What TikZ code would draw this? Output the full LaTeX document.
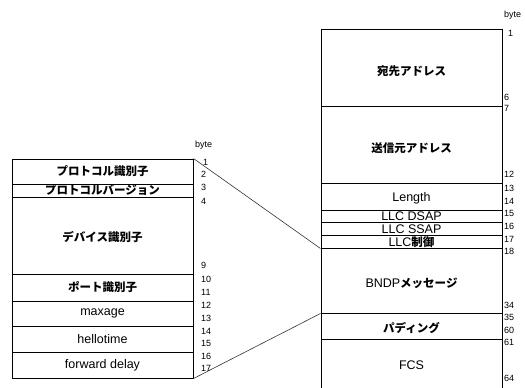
\documentclass[tikz,border=0pt]{standalone}
\usepackage{fontspec}
\setmainfont{Liberation Sans}
\newfontfamily\cjk{Noto Sans CJK JP}
\begin{document}
\begin{tikzpicture}[x=1pt,y=-1pt,
  row/.style={draw=black,line width=1pt,inner sep=0pt,minimum width=181pt},
  lat/.style={inner sep=0pt,font=\fontsize{12.5}{14}\selectfont},
  jp/.style={inner sep=0pt,font=\fontsize{11.5}{13}\selectfont\cjk\bfseries},
  num/.style={inner sep=0pt,anchor=west,font=\fontsize{9}{10}\selectfont},
  link/.style={draw=black!80,line width=0.6pt}]
\useasboundingbox (0,0) rectangle (525,388);
% left box
\node[row,minimum height=25pt] (pid) at (102.5,171.5) {};
\node[row,minimum height=13pt] (pver) at (102.5,190.5) {};
\node[row,minimum height=77pt] (dev) at (102.5,235.5) {};
\node[row,minimum height=27pt] (port) at (102.5,287.5) {};
\node[row,minimum height=25pt] (maxa) at (102.5,313.5) {};
\node[row,minimum height=26pt] (hello) at (102.5,339) {};
\node[row,minimum height=26pt] (fwd) at (102.5,365) {};
\node[jp] (tpid) at (102.5,171.5) {プロトコル識別子};
\node[jp] (tpver) at (102.5,190) {プロトコルバージョン};
\node[jp] (tdev) at (102.5,237.5) {デバイス識別子};
\node[jp] (tport) at (102.5,287.5) {ポート識別子};
\node[lat] (tmaxa) at (102.5,313) {maxage};
\node[lat] (thello) at (102.5,339) {hellotime};
\node[lat] (tfwd) at (102.5,365) {forward delay};
% right box
\node[row,minimum height=77pt] (dst) at (411.5,67.5) {};
\node[row,minimum height=77pt] (src) at (411.5,144.5) {};
\node[row,minimum height=27pt] (len) at (411.5,196.5) {};
\node[row,minimum height=12pt] (dsap) at (411.5,216) {};
\node[row,minimum height=13pt] (ssap) at (411.5,228.5) {};
\node[row,minimum height=13pt] (llc) at (411.5,241.5) {};
\node[row,minimum height=65pt] (bndp) at (411.5,280.5) {};
\node[row,minimum height=26pt] (pad) at (411.5,326) {};
\node[row,minimum height=61pt] (fcs) at (411.5,369.5) {};
\node[jp] (tdst) at (411.5,71) {宛先アドレス};
\node[jp] (tsrc) at (411.5,148) {送信元アドレス};
\node[lat] (tlen) at (411.5,198) {Length};
\node[lat] (tdsap) at (411.5,216) {LLC DSAP};
\node[lat] (tssap) at (411.5,229) {LLC SSAP};
\node[lat] (tllc) at (411.5,242) {LLC{\fontsize{11.5}{13}\selectfont\cjk\bfseries 制御}};
\node[lat] (tbndp) at (411.5,283) {BNDP{\fontsize{11.5}{13}\selectfont\cjk\bfseries メッセージ}};
\node[jp] (tpad) at (411.5,328) {パディング};
\node[lat] (tfcs) at (411.5,365) {FCS};
% connectors
\draw[link] (pid.north east) -- (llc.south west);
\draw[link] (fwd.south east) -- (bndp.south west);
% byte numbers left
\node[num] (lb) at (195,145) {byte};
\node[num] (l1) at (203,162) {1};
\node[num] (l2) at (201,174) {2};
\node[num] (l3) at (201,187) {3};
\node[num] (l4) at (201,201) {4};
\node[num] (l9) at (201,265) {9};
\node[num] (l10) at (201,279) {10};
\node[num] (l11) at (201,292) {11};
\node[num] (l12) at (201,305) {12};
\node[num] (l13) at (201,318) {13};
\node[num] (l14) at (201,331) {14};
\node[num] (l15) at (201,343) {15};
\node[num] (l16) at (201,356) {16};
\node[num] (l17) at (201,368) {17};
% byte numbers right
\node[num] (rb) at (504,15) {byte};
\node[num] (r1) at (508,33) {1};
\node[num] (r6) at (504,97) {6};
\node[num] (r7) at (504,108) {7};
\node[num] (r12) at (504,174) {12};
\node[num] (r13) at (504,188) {13};
\node[num] (r14) at (504,201) {14};
\node[num] (r15) at (504,213) {15};
\node[num] (r16) at (504,226) {16};
\node[num] (r17) at (504,239) {17};
\node[num] (r18) at (504,251) {18};
\node[num] (r34) at (504,305) {34};
\node[num] (r35) at (504,317) {35};
\node[num] (r60) at (504,330) {60};
\node[num] (r61) at (504,342) {61};
\node[num] (r64) at (504,378) {64};
\end{tikzpicture}
\end{document}
